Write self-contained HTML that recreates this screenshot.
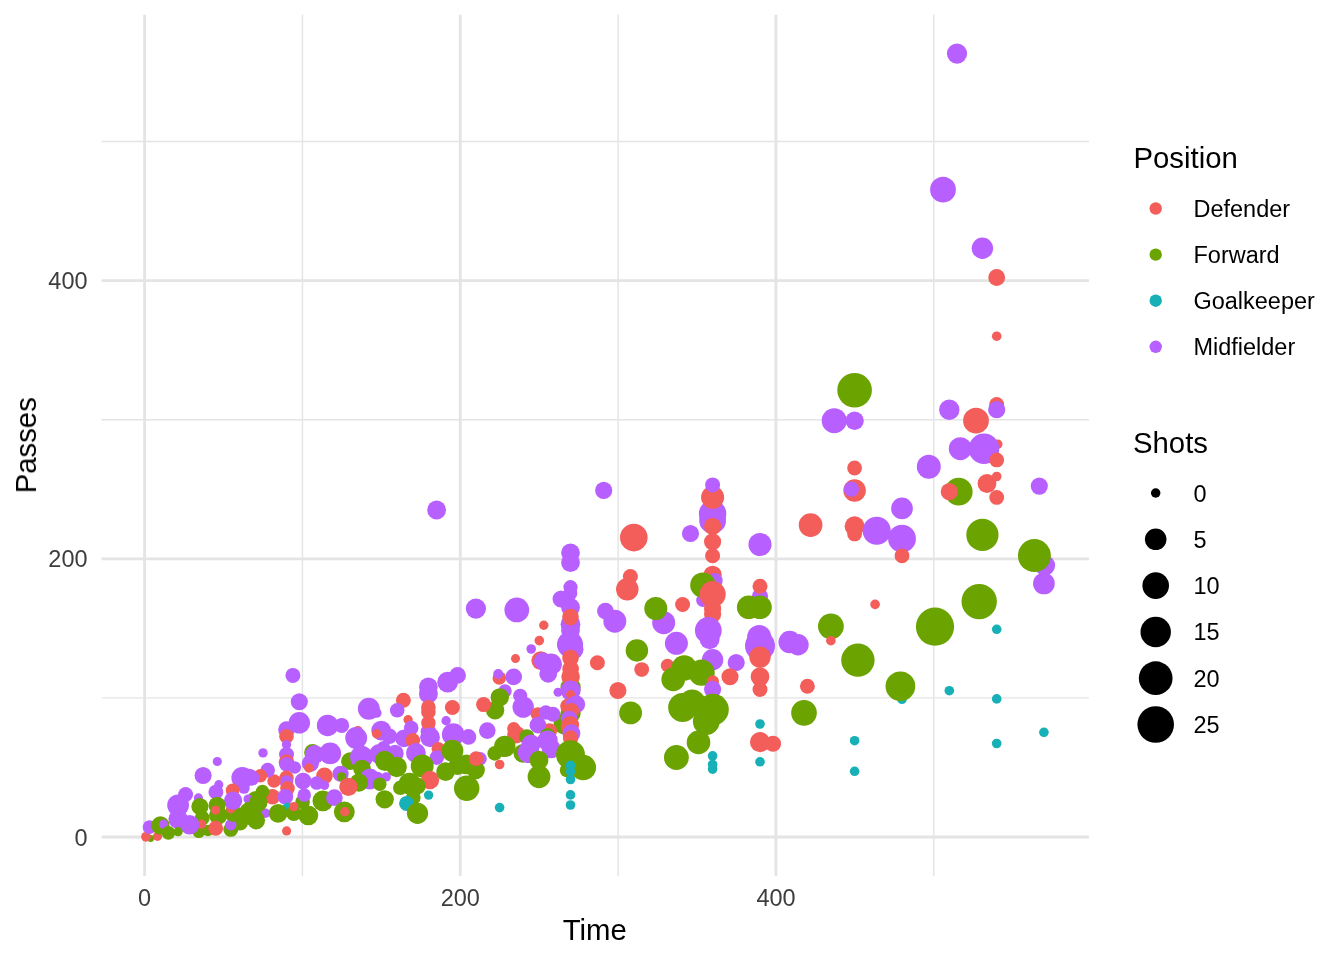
<!DOCTYPE html>
<html><head><meta charset="utf-8"><style>
html,body{margin:0;padding:0;background:#fff;}
svg{display:block;}
text{font-family:"Liberation Sans",sans-serif;}
</style></head><body>
<svg width="1344" height="960" viewBox="0 0 1344 960">
<rect width="1344" height="960" fill="#fff"/>

<line x1="101.6" x2="1088.9" y1="697.90" y2="697.90" stroke="#E4E4E4" stroke-width="1.42"/>
<line x1="302.44" x2="302.44" y1="14.7" y2="876.0" stroke="#E4E4E4" stroke-width="1.42"/>
<line x1="101.6" x2="1088.9" y1="419.70" y2="419.70" stroke="#E4E4E4" stroke-width="1.42"/>
<line x1="618.12" x2="618.12" y1="14.7" y2="876.0" stroke="#E4E4E4" stroke-width="1.42"/>
<line x1="101.6" x2="1088.9" y1="141.50" y2="141.50" stroke="#E4E4E4" stroke-width="1.42"/>
<line x1="933.80" x2="933.80" y1="14.7" y2="876.0" stroke="#E4E4E4" stroke-width="1.42"/>
<line x1="101.6" x2="1088.9" y1="837.00" y2="837.00" stroke="#E4E4E4" stroke-width="2.84"/>
<line x1="144.60" x2="144.60" y1="14.7" y2="876.0" stroke="#E4E4E4" stroke-width="2.84"/>
<line x1="101.6" x2="1088.9" y1="558.80" y2="558.80" stroke="#E4E4E4" stroke-width="2.84"/>
<line x1="460.28" x2="460.28" y1="14.7" y2="876.0" stroke="#E4E4E4" stroke-width="2.84"/>
<line x1="101.6" x2="1088.9" y1="280.60" y2="280.60" stroke="#E4E4E4" stroke-width="2.84"/>
<line x1="775.96" x2="775.96" y1="14.7" y2="876.0" stroke="#E4E4E4" stroke-width="2.84"/>
<g><circle cx="457.5" cy="766.0" r="9.0" fill="#6BA300"/>
<circle cx="522.9" cy="753.4" r="9.37" fill="#6BA300"/>
<circle cx="570.6" cy="687.5" r="10.12" fill="#6BA300"/>
<circle cx="570.6" cy="713.1" r="10.12" fill="#6BA300"/>
<circle cx="957" cy="53.6" r="10.1" fill="#B75FFF"/>
<circle cx="943" cy="189.7" r="12.9" fill="#B75FFF"/>
<circle cx="982.4" cy="248.2" r="10.7" fill="#B75FFF"/>
<circle cx="996.7" cy="277.5" r="8.4" fill="#F35E5A"/>
<circle cx="996.7" cy="336.2" r="4.8" fill="#F35E5A"/>
<circle cx="854.6" cy="390.2" r="17.3" fill="#6BA300"/>
<circle cx="834.2" cy="420.7" r="12.5" fill="#B75FFF"/>
<circle cx="854.6" cy="420.7" r="9.2" fill="#B75FFF"/>
<circle cx="949.3" cy="409.7" r="10.2" fill="#B75FFF"/>
<circle cx="996.7" cy="404.5" r="7.4" fill="#F35E5A"/>
<circle cx="996.7" cy="409.7" r="8.6" fill="#B75FFF"/>
<circle cx="976" cy="420.7" r="12.9" fill="#F35E5A"/>
<circle cx="997.7" cy="444.2" r="4.8" fill="#F35E5A"/>
<circle cx="960.3" cy="448.7" r="11.5" fill="#B75FFF"/>
<circle cx="984" cy="448.7" r="15.3" fill="#B75FFF"/>
<circle cx="996.7" cy="459.9" r="7.4" fill="#F35E5A"/>
<circle cx="854.6" cy="468" r="7.4" fill="#F35E5A"/>
<circle cx="928.8" cy="466.7" r="12" fill="#B75FFF"/>
<circle cx="854.6" cy="490.5" r="11.25" fill="#F35E5A"/>
<circle cx="851.4" cy="489.1" r="7.6" fill="#B75FFF"/>
<circle cx="902" cy="508.4" r="10.85" fill="#B75FFF"/>
<circle cx="810.6" cy="525.1" r="11.85" fill="#F35E5A"/>
<circle cx="854.6" cy="526.3" r="10" fill="#F35E5A"/>
<circle cx="854.6" cy="533.9" r="7.4" fill="#F35E5A"/>
<circle cx="876.7" cy="530.7" r="14.06" fill="#B75FFF"/>
<circle cx="902" cy="538.7" r="13.9" fill="#B75FFF"/>
<circle cx="902" cy="555.8" r="7.4" fill="#F35E5A"/>
<circle cx="958.7" cy="491.7" r="13.9" fill="#6BA300"/>
<circle cx="949.3" cy="491.7" r="8.6" fill="#F35E5A"/>
<circle cx="987" cy="483.5" r="9.4" fill="#F35E5A"/>
<circle cx="996.7" cy="476.5" r="4.8" fill="#F35E5A"/>
<circle cx="996.7" cy="497.4" r="7.4" fill="#F35E5A"/>
<circle cx="1039.3" cy="486.1" r="8.6" fill="#B75FFF"/>
<circle cx="982.4" cy="534.9" r="16.1" fill="#6BA300"/>
<circle cx="1044.9" cy="565.5" r="10.2" fill="#B75FFF"/>
<circle cx="1034.4" cy="555.6" r="16.5" fill="#6BA300"/>
<circle cx="1043.9" cy="583.5" r="10.85" fill="#B75FFF"/>
<circle cx="979.2" cy="601.6" r="17.7" fill="#6BA300"/>
<circle cx="875.1" cy="604.4" r="4.8" fill="#F35E5A"/>
<circle cx="935" cy="626.7" r="19.1" fill="#6BA300"/>
<circle cx="830.9" cy="626.3" r="12.9" fill="#6BA300"/>
<circle cx="996.7" cy="629.3" r="4.8" fill="#18B0B7"/>
<circle cx="830.9" cy="640.7" r="4.82" fill="#F35E5A"/>
<circle cx="857.9" cy="660.2" r="16.67" fill="#6BA300"/>
<circle cx="807.4" cy="686.3" r="7.43" fill="#F35E5A"/>
<circle cx="902.0" cy="699.3" r="4.82" fill="#18B0B7"/>
<circle cx="900.4" cy="686.3" r="14.87" fill="#6BA300"/>
<circle cx="949.3" cy="690.7" r="4.82" fill="#18B0B7"/>
<circle cx="996.7" cy="698.9" r="4.82" fill="#18B0B7"/>
<circle cx="804.0" cy="712.8" r="12.86" fill="#6BA300"/>
<circle cx="854.6" cy="740.7" r="4.82" fill="#18B0B7"/>
<circle cx="854.6" cy="771.3" r="4.82" fill="#18B0B7"/>
<circle cx="996.7" cy="743.5" r="4.82" fill="#18B0B7"/>
<circle cx="1043.9" cy="732.3" r="4.82" fill="#18B0B7"/>
<circle cx="712.6" cy="513.7" r="13.73" fill="#B75FFF"/>
<circle cx="712.6" cy="520.4" r="13.39" fill="#B75FFF"/>
<circle cx="712.6" cy="497.3" r="11.52" fill="#F35E5A"/>
<circle cx="712.6" cy="484.9" r="7.5" fill="#B75FFF"/>
<circle cx="712.6" cy="526.4" r="8.57" fill="#F35E5A"/>
<circle cx="712.6" cy="541.8" r="8.57" fill="#F35E5A"/>
<circle cx="712.6" cy="555.8" r="7.5" fill="#F35E5A"/>
<circle cx="690.5" cy="533.5" r="8.57" fill="#B75FFF"/>
<circle cx="760.0" cy="544.5" r="11.52" fill="#B75FFF"/>
<circle cx="712.6" cy="574.8" r="9.11" fill="#F35E5A"/>
<circle cx="715.0" cy="580.8" r="7.7" fill="#B75FFF"/>
<circle cx="702.9" cy="600.2" r="6.7" fill="#B75FFF"/>
<circle cx="702.9" cy="585.1" r="12.72" fill="#6BA300"/>
<circle cx="712.6" cy="594.2" r="13.12" fill="#F35E5A"/>
<circle cx="712.6" cy="608.9" r="8.57" fill="#F35E5A"/>
<circle cx="712.6" cy="614.3" r="8.57" fill="#F35E5A"/>
<circle cx="760.0" cy="596.2" r="8.04" fill="#B75FFF"/>
<circle cx="760.0" cy="586.2" r="7.5" fill="#F35E5A"/>
<circle cx="748.7" cy="607.3" r="11.79" fill="#6BA300"/>
<circle cx="760.0" cy="607.3" r="11.79" fill="#6BA300"/>
<circle cx="663.7" cy="622.7" r="11.52" fill="#B75FFF"/>
<circle cx="655.8" cy="608.5" r="11.52" fill="#6BA300"/>
<circle cx="682.6" cy="604.5" r="7.5" fill="#F35E5A"/>
<circle cx="676.4" cy="643.3" r="11.52" fill="#B75FFF"/>
<circle cx="708.3" cy="630.4" r="13.39" fill="#B75FFF"/>
<circle cx="709.6" cy="639.1" r="10.04" fill="#B75FFF"/>
<circle cx="712.6" cy="659.8" r="10.71" fill="#B75FFF"/>
<circle cx="736.2" cy="662.5" r="8.57" fill="#B75FFF"/>
<circle cx="759.2" cy="637.0" r="12.05" fill="#B75FFF"/>
<circle cx="760.0" cy="645.8" r="15.0" fill="#B75FFF"/>
<circle cx="760.0" cy="657.1" r="10.71" fill="#F35E5A"/>
<circle cx="789.7" cy="642.1" r="11.25" fill="#B75FFF"/>
<circle cx="798.0" cy="644.8" r="10.71" fill="#B75FFF"/>
<circle cx="603.7" cy="490.4" r="8.57" fill="#B75FFF"/>
<circle cx="633.8" cy="537.6" r="13.79" fill="#F35E5A"/>
<circle cx="570.5" cy="552.8" r="9.37" fill="#B75FFF"/>
<circle cx="570.5" cy="562.7" r="9.37" fill="#B75FFF"/>
<circle cx="570.5" cy="587.2" r="7.08" fill="#B75FFF"/>
<circle cx="570.5" cy="593.4" r="6.77" fill="#B75FFF"/>
<circle cx="561.1" cy="599.0" r="8.59" fill="#B75FFF"/>
<circle cx="570.5" cy="607.5" r="9.38" fill="#B75FFF"/>
<circle cx="570.5" cy="624.2" r="9.9" fill="#B75FFF"/>
<circle cx="570.5" cy="630.4" r="9.38" fill="#B75FFF"/>
<circle cx="570.5" cy="617.1" r="8.33" fill="#F35E5A"/>
<circle cx="570.0" cy="644.5" r="13.02" fill="#B75FFF"/>
<circle cx="573.1" cy="649.2" r="10.42" fill="#B75FFF"/>
<circle cx="570.5" cy="658.0" r="8.33" fill="#F35E5A"/>
<circle cx="543.8" cy="625.2" r="4.69" fill="#F35E5A"/>
<circle cx="539.3" cy="640.6" r="4.79" fill="#F35E5A"/>
<circle cx="531.2" cy="649.0" r="4.79" fill="#B75FFF"/>
<circle cx="540.8" cy="660.6" r="9.38" fill="#F35E5A"/>
<circle cx="605.4" cy="611.1" r="8.33" fill="#B75FFF"/>
<circle cx="614.8" cy="621.2" r="11.46" fill="#B75FFF"/>
<circle cx="630.4" cy="576.5" r="7.5" fill="#F35E5A"/>
<circle cx="627.3" cy="589.3" r="11.25" fill="#F35E5A"/>
<circle cx="636.9" cy="650.4" r="11.25" fill="#6BA300"/>
<circle cx="597.4" cy="662.7" r="7.5" fill="#F35E5A"/>
<circle cx="641.7" cy="669.6" r="7.4" fill="#F35E5A"/>
<circle cx="667.5" cy="665.4" r="6.7" fill="#F35E5A"/>
<circle cx="684.2" cy="668.0" r="12.72" fill="#6BA300"/>
<circle cx="701.6" cy="672.7" r="13.12" fill="#6BA300"/>
<circle cx="673.2" cy="679.4" r="11.79" fill="#6BA300"/>
<circle cx="730.0" cy="676.7" r="8.57" fill="#F35E5A"/>
<circle cx="760.0" cy="676.7" r="9.37" fill="#F35E5A"/>
<circle cx="760.0" cy="689.5" r="7.5" fill="#F35E5A"/>
<circle cx="713.0" cy="681.4" r="6.03" fill="#F35E5A"/>
<circle cx="712.6" cy="689.2" r="8.57" fill="#B75FFF"/>
<circle cx="682.6" cy="707.5" r="14.46" fill="#6BA300"/>
<circle cx="692.2" cy="702.9" r="13.39" fill="#6BA300"/>
<circle cx="713.0" cy="709.6" r="15.8" fill="#6BA300"/>
<circle cx="706.3" cy="721.6" r="13.39" fill="#6BA300"/>
<circle cx="698.5" cy="742.4" r="11.79" fill="#6BA300"/>
<circle cx="676.4" cy="757.5" r="12.45" fill="#6BA300"/>
<circle cx="712.6" cy="755.9" r="4.82" fill="#18B0B7"/>
<circle cx="712.6" cy="764.5" r="4.82" fill="#18B0B7"/>
<circle cx="712.6" cy="769.1" r="4.82" fill="#18B0B7"/>
<circle cx="760.0" cy="724.0" r="4.82" fill="#18B0B7"/>
<circle cx="760.0" cy="742.1" r="10.04" fill="#F35E5A"/>
<circle cx="773.0" cy="743.7" r="8.04" fill="#F35E5A"/>
<circle cx="760.0" cy="761.8" r="4.82" fill="#18B0B7"/>
<circle cx="570.6" cy="669.0" r="8.33" fill="#F35E5A"/>
<circle cx="570.6" cy="676.8" r="9.29" fill="#F35E5A"/>
<circle cx="570.6" cy="690.5" r="10.12" fill="#B75FFF"/>
<circle cx="558.0" cy="692.3" r="4.52" fill="#B75FFF"/>
<circle cx="570.6" cy="694.6" r="4.52" fill="#F35E5A"/>
<circle cx="576.2" cy="704.2" r="8.93" fill="#B75FFF"/>
<circle cx="567.3" cy="706.0" r="7.14" fill="#F35E5A"/>
<circle cx="570.6" cy="703.0" r="4.52" fill="#B75FFF"/>
<circle cx="571.4" cy="710.7" r="7.74" fill="#F35E5A"/>
<circle cx="564.3" cy="723.8" r="10.71" fill="#6BA300"/>
<circle cx="569.0" cy="719.0" r="8.33" fill="#B75FFF"/>
<circle cx="570.2" cy="725.0" r="8.93" fill="#F35E5A"/>
<circle cx="569.0" cy="726.8" r="8.33" fill="#F35E5A"/>
<circle cx="571.4" cy="733.3" r="8.93" fill="#B75FFF"/>
<circle cx="570.6" cy="738.1" r="7.74" fill="#F35E5A"/>
<circle cx="515.5" cy="658.6" r="4.52" fill="#F35E5A"/>
<circle cx="542.9" cy="661.3" r="8.93" fill="#B75FFF"/>
<circle cx="551.2" cy="664.3" r="10.71" fill="#B75FFF"/>
<circle cx="548.2" cy="673.8" r="8.93" fill="#B75FFF"/>
<circle cx="513.7" cy="676.8" r="8.33" fill="#B75FFF"/>
<circle cx="520.2" cy="695.8" r="7.14" fill="#B75FFF"/>
<circle cx="523.2" cy="707.1" r="10.71" fill="#B75FFF"/>
<circle cx="537.9" cy="714.3" r="7.14" fill="#F35E5A"/>
<circle cx="545.8" cy="712.5" r="7.14" fill="#B75FFF"/>
<circle cx="553.0" cy="714.3" r="7.44" fill="#B75FFF"/>
<circle cx="549.4" cy="731.0" r="7.74" fill="#F35E5A"/>
<circle cx="537.9" cy="725.2" r="8.33" fill="#B75FFF"/>
<circle cx="513.7" cy="728.6" r="6.55" fill="#F35E5A"/>
<circle cx="516.1" cy="734.5" r="8.93" fill="#F35E5A"/>
<circle cx="526.8" cy="736.9" r="7.74" fill="#6BA300"/>
<circle cx="547.6" cy="735.7" r="7.74" fill="#6BA300"/>
<circle cx="504.8" cy="746.4" r="10.71" fill="#6BA300"/>
<circle cx="531.0" cy="744.0" r="9.52" fill="#B75FFF"/>
<circle cx="547.6" cy="740.5" r="10.12" fill="#B75FFF"/>
<circle cx="528.6" cy="752.4" r="10.71" fill="#B75FFF"/>
<circle cx="551.2" cy="748.8" r="9.52" fill="#B75FFF"/>
<circle cx="617.9" cy="690.5" r="8.57" fill="#F35E5A"/>
<circle cx="630.6" cy="712.9" r="11.43" fill="#6BA300"/>
<circle cx="494.8" cy="753.4" r="7.37" fill="#6BA300"/>
<circle cx="539.0" cy="760.1" r="9.37" fill="#6BA300"/>
<circle cx="539.0" cy="776.8" r="11.38" fill="#6BA300"/>
<circle cx="570.5" cy="754.7" r="14.46" fill="#6BA300"/>
<circle cx="567.1" cy="770.1" r="7.37" fill="#6BA300"/>
<circle cx="583.2" cy="767.5" r="12.86" fill="#6BA300"/>
<circle cx="570.5" cy="765.4" r="4.82" fill="#18B0B7"/>
<circle cx="570.5" cy="771.5" r="4.82" fill="#18B0B7"/>
<circle cx="570.5" cy="779.5" r="4.82" fill="#18B0B7"/>
<circle cx="570.5" cy="794.9" r="4.82" fill="#18B0B7"/>
<circle cx="570.5" cy="805.0" r="4.82" fill="#18B0B7"/>
<circle cx="499.6" cy="764.5" r="4.82" fill="#F35E5A"/>
<circle cx="499.6" cy="807.6" r="4.82" fill="#18B0B7"/>
<circle cx="480.1" cy="758.7" r="6.7" fill="#B75FFF"/>
<circle cx="466.7" cy="788.2" r="12.72" fill="#6BA300"/>
<circle cx="499.3" cy="678.0" r="6.77" fill="#F35E5A"/>
<circle cx="498.2" cy="673.9" r="4.95" fill="#B75FFF"/>
<circle cx="505.0" cy="691.0" r="6.77" fill="#B75FFF"/>
<circle cx="499.8" cy="697.3" r="9.17" fill="#6BA300"/>
<circle cx="495.1" cy="710.3" r="9.17" fill="#6BA300"/>
<circle cx="483.6" cy="704.6" r="7.5" fill="#F35E5A"/>
<circle cx="487.3" cy="730.6" r="8.33" fill="#B75FFF"/>
<circle cx="428.4" cy="686.9" r="9.38" fill="#B75FFF"/>
<circle cx="428.4" cy="694.2" r="9.38" fill="#B75FFF"/>
<circle cx="447.7" cy="682.2" r="10.42" fill="#B75FFF"/>
<circle cx="457.6" cy="675.4" r="8.33" fill="#B75FFF"/>
<circle cx="428.4" cy="707.2" r="7.29" fill="#F35E5A"/>
<circle cx="428.4" cy="711.9" r="7.29" fill="#F35E5A"/>
<circle cx="428.4" cy="731.7" r="7.81" fill="#B75FFF"/>
<circle cx="428.4" cy="722.8" r="7.29" fill="#F35E5A"/>
<circle cx="452.4" cy="707.5" r="7.5" fill="#F35E5A"/>
<circle cx="403.4" cy="700.2" r="7.5" fill="#F35E5A"/>
<circle cx="397.2" cy="710.3" r="7.29" fill="#B75FFF"/>
<circle cx="408.1" cy="719.7" r="4.69" fill="#F35E5A"/>
<circle cx="411.2" cy="728.0" r="7.29" fill="#B75FFF"/>
<circle cx="446.1" cy="720.7" r="4.69" fill="#B75FFF"/>
<circle cx="453.2" cy="734.5" r="11.3" fill="#B75FFF"/>
<circle cx="468.5" cy="736.9" r="7.81" fill="#B75FFF"/>
<circle cx="389.4" cy="736.2" r="7.81" fill="#B75FFF"/>
<circle cx="404.0" cy="738.3" r="8.85" fill="#B75FFF"/>
<circle cx="412.8" cy="740.4" r="7.29" fill="#F35E5A"/>
<circle cx="430.0" cy="737.3" r="9.9" fill="#B75FFF"/>
<circle cx="383.6" cy="747.7" r="6.77" fill="#B75FFF"/>
<circle cx="395.1" cy="753.4" r="8.59" fill="#B75FFF"/>
<circle cx="415.9" cy="752.9" r="9.9" fill="#B75FFF"/>
<circle cx="438.3" cy="748.8" r="6.77" fill="#F35E5A"/>
<circle cx="436.8" cy="757.6" r="7.29" fill="#B75FFF"/>
<circle cx="452.4" cy="750.8" r="10.94" fill="#6BA300"/>
<circle cx="466.5" cy="764.4" r="9.9" fill="#6BA300"/>
<circle cx="475.8" cy="770.1" r="9.11" fill="#6BA300"/>
<circle cx="385.2" cy="761.2" r="9.9" fill="#6BA300"/>
<circle cx="396.7" cy="767.0" r="10.16" fill="#6BA300"/>
<circle cx="422.2" cy="765.9" r="11.46" fill="#6BA300"/>
<circle cx="430.0" cy="780.0" r="9.17" fill="#F35E5A"/>
<circle cx="445.6" cy="771.7" r="9.38" fill="#6BA300"/>
<circle cx="409.7" cy="783.6" r="10.94" fill="#6BA300"/>
<circle cx="400.3" cy="787.8" r="7.29" fill="#6BA300"/>
<circle cx="417.5" cy="786.2" r="8.33" fill="#6BA300"/>
<circle cx="386.2" cy="776.9" r="4.69" fill="#B75FFF"/>
<circle cx="384.7" cy="799.3" r="9.17" fill="#6BA300"/>
<circle cx="413.3" cy="797.7" r="7.29" fill="#6BA300"/>
<circle cx="406.6" cy="803.4" r="7.5" fill="#18B0B7"/>
<circle cx="417.5" cy="813.3" r="10.62" fill="#6BA300"/>
<circle cx="428.6" cy="795.1" r="4.69" fill="#18B0B7"/>
<circle cx="292.9" cy="675.4" r="7.5" fill="#B75FFF"/>
<circle cx="299.3" cy="701.8" r="8.54" fill="#B75FFF"/>
<circle cx="286.5" cy="729.6" r="8.33" fill="#B75FFF"/>
<circle cx="299.3" cy="722.8" r="10.73" fill="#B75FFF"/>
<circle cx="286.5" cy="736.4" r="7.29" fill="#F35E5A"/>
<circle cx="327.6" cy="725.4" r="10.73" fill="#B75FFF"/>
<circle cx="341.7" cy="725.4" r="7.5" fill="#B75FFF"/>
<circle cx="368.8" cy="708.8" r="10.94" fill="#B75FFF"/>
<circle cx="376.6" cy="712.9" r="4.95" fill="#B75FFF"/>
<circle cx="357.8" cy="730.6" r="4.69" fill="#F35E5A"/>
<circle cx="356.2" cy="737.9" r="10.94" fill="#B75FFF"/>
<circle cx="381.2" cy="730.6" r="9.9" fill="#B75FFF"/>
<circle cx="376.6" cy="733.8" r="4.69" fill="#F35E5A"/>
<circle cx="286.5" cy="744.6" r="4.69" fill="#B75FFF"/>
<circle cx="286.5" cy="754.5" r="7.5" fill="#B75FFF"/>
<circle cx="263.0" cy="752.9" r="4.69" fill="#B75FFF"/>
<circle cx="312.5" cy="752.4" r="8.33" fill="#6BA300"/>
<circle cx="314.6" cy="754.5" r="9.38" fill="#B75FFF"/>
<circle cx="330.2" cy="753.4" r="10.94" fill="#B75FFF"/>
<circle cx="310.4" cy="763.3" r="8.59" fill="#B75FFF"/>
<circle cx="308.9" cy="768.0" r="4.69" fill="#F35E5A"/>
<circle cx="350.0" cy="761.2" r="8.85" fill="#6BA300"/>
<circle cx="361.5" cy="757.1" r="11.46" fill="#B75FFF"/>
<circle cx="379.2" cy="754.0" r="9.9" fill="#B75FFF"/>
<circle cx="384.4" cy="760.2" r="9.38" fill="#6BA300"/>
<circle cx="362.0" cy="768.5" r="8.85" fill="#6BA300"/>
<circle cx="369.8" cy="779.0" r="10.42" fill="#B75FFF"/>
<circle cx="377.1" cy="779.0" r="7.29" fill="#B75FFF"/>
<circle cx="379.7" cy="784.2" r="6.77" fill="#6BA300"/>
<circle cx="358.9" cy="782.6" r="9.17" fill="#6BA300"/>
<circle cx="340.6" cy="773.8" r="8.07" fill="#B75FFF"/>
<circle cx="341.7" cy="776.9" r="4.69" fill="#6BA300"/>
<circle cx="324.5" cy="775.8" r="8.33" fill="#F35E5A"/>
<circle cx="316.7" cy="783.1" r="6.77" fill="#B75FFF"/>
<circle cx="324.5" cy="785.2" r="4.69" fill="#B75FFF"/>
<circle cx="348.4" cy="786.8" r="9.17" fill="#F35E5A"/>
<circle cx="322.9" cy="800.8" r="10.42" fill="#6BA300"/>
<circle cx="334.4" cy="797.7" r="8.33" fill="#B75FFF"/>
<circle cx="344.3" cy="811.8" r="10.42" fill="#6BA300"/>
<circle cx="344.8" cy="811.8" r="4.69" fill="#F35E5A"/>
<circle cx="308.3" cy="815.4" r="9.9" fill="#6BA300"/>
<circle cx="302.6" cy="801.9" r="7.29" fill="#6BA300"/>
<circle cx="304.2" cy="795.1" r="6.77" fill="#B75FFF"/>
<circle cx="286.5" cy="762.3" r="7.81" fill="#F35E5A"/>
<circle cx="286.5" cy="764.4" r="7.29" fill="#B75FFF"/>
<circle cx="294.8" cy="767.5" r="6.25" fill="#B75FFF"/>
<circle cx="303.1" cy="781.0" r="8.33" fill="#B75FFF"/>
<circle cx="286.5" cy="777.9" r="7.29" fill="#F35E5A"/>
<circle cx="286.5" cy="782.1" r="6.77" fill="#B75FFF"/>
<circle cx="274.0" cy="781.0" r="6.77" fill="#F35E5A"/>
<circle cx="287.5" cy="788.3" r="7.29" fill="#F35E5A"/>
<circle cx="272.4" cy="796.7" r="7.81" fill="#F35E5A"/>
<circle cx="285.4" cy="796.7" r="7.81" fill="#B75FFF"/>
<circle cx="267.7" cy="770.1" r="7.29" fill="#B75FFF"/>
<circle cx="260.4" cy="775.8" r="6.77" fill="#F35E5A"/>
<circle cx="251.6" cy="777.9" r="7.81" fill="#B75FFF"/>
<circle cx="262.5" cy="791.5" r="6.77" fill="#6BA300"/>
<circle cx="256.2" cy="800.8" r="9.9" fill="#6BA300"/>
<circle cx="265.6" cy="813.3" r="4.69" fill="#B75FFF"/>
<circle cx="256.2" cy="820.6" r="8.85" fill="#6BA300"/>
<circle cx="287.5" cy="807.1" r="4.69" fill="#18B0B7"/>
<circle cx="278.1" cy="813.3" r="9.38" fill="#6BA300"/>
<circle cx="293.8" cy="813.3" r="7.81" fill="#6BA300"/>
<circle cx="293.8" cy="806.6" r="4.69" fill="#F35E5A"/>
<circle cx="217.3" cy="761.5" r="4.58" fill="#B75FFF"/>
<circle cx="203.1" cy="775.5" r="8.59" fill="#B75FFF"/>
<circle cx="218.8" cy="784.7" r="4.58" fill="#B75FFF"/>
<circle cx="215.9" cy="792.1" r="7.45" fill="#B75FFF"/>
<circle cx="242.3" cy="777.8" r="10.89" fill="#B75FFF"/>
<circle cx="249.2" cy="776.7" r="8.02" fill="#B75FFF"/>
<circle cx="244.0" cy="788.1" r="5.73" fill="#B75FFF"/>
<circle cx="232.6" cy="790.4" r="6.88" fill="#F35E5A"/>
<circle cx="248.0" cy="799.0" r="4.58" fill="#B75FFF"/>
<circle cx="258.3" cy="802.4" r="9.17" fill="#6BA300"/>
<circle cx="250.3" cy="813.3" r="11.46" fill="#6BA300"/>
<circle cx="240.0" cy="822.5" r="8.02" fill="#6BA300"/>
<circle cx="230.8" cy="829.4" r="7.45" fill="#6BA300"/>
<circle cx="230.8" cy="824.8" r="5.73" fill="#B75FFF"/>
<circle cx="233.1" cy="813.3" r="8.59" fill="#6BA300"/>
<circle cx="230.8" cy="808.8" r="4.58" fill="#F35E5A"/>
<circle cx="233.1" cy="800.7" r="9.17" fill="#B75FFF"/>
<circle cx="185.6" cy="794.4" r="7.45" fill="#B75FFF"/>
<circle cx="178.1" cy="805.3" r="10.89" fill="#B75FFF"/>
<circle cx="198.4" cy="797.9" r="4.58" fill="#B75FFF"/>
<circle cx="199.9" cy="806.5" r="8.59" fill="#6BA300"/>
<circle cx="217.1" cy="805.3" r="8.59" fill="#6BA300"/>
<circle cx="202.2" cy="817.9" r="7.45" fill="#6BA300"/>
<circle cx="218.2" cy="815.6" r="9.17" fill="#6BA300"/>
<circle cx="215.7" cy="810.1" r="4.58" fill="#F35E5A"/>
<circle cx="198.8" cy="831.7" r="6.3" fill="#6BA300"/>
<circle cx="207.9" cy="830.5" r="5.73" fill="#6BA300"/>
<circle cx="215.7" cy="828.2" r="7.45" fill="#F35E5A"/>
<circle cx="201.6" cy="824.2" r="4.58" fill="#F35E5A"/>
<circle cx="178.1" cy="819.1" r="9.74" fill="#B75FFF"/>
<circle cx="189.6" cy="824.8" r="9.74" fill="#B75FFF"/>
<circle cx="178.1" cy="831.7" r="4.58" fill="#6BA300"/>
<circle cx="150.6" cy="838.5" r="3.44" fill="#6BA300"/>
<circle cx="146.0" cy="836.8" r="4.87" fill="#F35E5A"/>
<circle cx="149.5" cy="827.1" r="6.88" fill="#B75FFF"/>
<circle cx="157.5" cy="836.3" r="4.58" fill="#F35E5A"/>
<circle cx="160.4" cy="825.4" r="9.17" fill="#6BA300"/>
<circle cx="163.6" cy="824.2" r="4.58" fill="#B75FFF"/>
<circle cx="168.4" cy="832.8" r="6.88" fill="#6BA300"/>
<circle cx="436.6" cy="510.0" r="9.38" fill="#B75FFF"/>
<circle cx="475.9" cy="608.6" r="10.13" fill="#B75FFF"/>
<circle cx="516.8" cy="609.9" r="12.38" fill="#B75FFF"/>
<circle cx="286.6" cy="830.9" r="4.6" fill="#F35E5A"/>
<circle cx="476.1" cy="758.7" r="7.37" fill="#F35E5A"/></g>
<g style="will-change:transform"><text x="144.6" y="906" font-size="23.47" fill="#3D3D3D" text-anchor="middle">0</text>
<text x="87.5" y="845.5" font-size="23.47" fill="#3D3D3D" text-anchor="end">0</text>
<text x="460.3" y="906" font-size="23.47" fill="#3D3D3D" text-anchor="middle">200</text>
<text x="87.5" y="567.3" font-size="23.47" fill="#3D3D3D" text-anchor="end">200</text>
<text x="776.0" y="906" font-size="23.47" fill="#3D3D3D" text-anchor="middle">400</text>
<text x="87.5" y="289.1" font-size="23.47" fill="#3D3D3D" text-anchor="end">400</text>
<text x="594.8" y="940" font-size="29.33" fill="#000" text-anchor="middle">Time</text>
<text transform="translate(36,445.3) rotate(-90)" x="0" y="0" font-size="29.33" fill="#000" text-anchor="middle">Passes</text>
<text x="1133.5" y="168" font-size="29.33" fill="#000">Position</text>
<circle cx="1155.7" cy="208.5" r="6.2" fill="#F35E5A"/>
<text x="1193.5" y="217.0" font-size="23.47" fill="#000">Defender</text>
<circle cx="1155.7" cy="254.6" r="6.2" fill="#6BA300"/>
<text x="1193.5" y="263.1" font-size="23.47" fill="#000">Forward</text>
<circle cx="1155.7" cy="300.7" r="6.2" fill="#18B0B7"/>
<text x="1193.5" y="309.2" font-size="23.47" fill="#000">Goalkeeper</text>
<circle cx="1155.7" cy="346.8" r="6.2" fill="#B75FFF"/>
<text x="1193.5" y="355.3" font-size="23.47" fill="#000">Midfielder</text>
<text x="1133" y="453" font-size="29.33" fill="#000">Shots</text>
<circle cx="1155.7" cy="493.0" r="4.75" fill="#000"/>
<text x="1193.5" y="501.5" font-size="23.47" fill="#000">0</text>
<circle cx="1155.7" cy="539.3" r="10.80" fill="#000"/>
<text x="1193.5" y="547.8" font-size="23.47" fill="#000">5</text>
<circle cx="1155.7" cy="585.6" r="13.31" fill="#000"/>
<text x="1193.5" y="594.1" font-size="23.47" fill="#000">10</text>
<circle cx="1155.7" cy="631.9" r="15.23" fill="#000"/>
<text x="1193.5" y="640.4" font-size="23.47" fill="#000">15</text>
<circle cx="1155.7" cy="678.2" r="16.85" fill="#000"/>
<text x="1193.5" y="686.7" font-size="23.47" fill="#000">20</text>
<circle cx="1155.7" cy="724.5" r="18.28" fill="#000"/>
<text x="1193.5" y="733.0" font-size="23.47" fill="#000">25</text></g>
</svg></body></html>
